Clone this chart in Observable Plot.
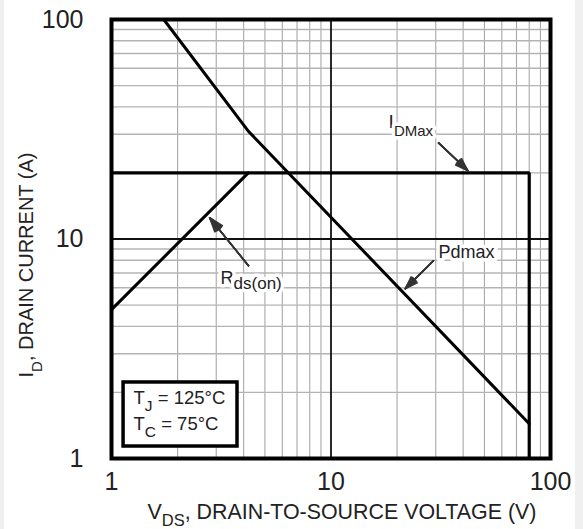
<!DOCTYPE html>
<html>
<head>
<meta charset="utf-8">
<script src="https://cdn.jsdelivr.net/npm/d3@7"></script>
<script src="https://cdn.jsdelivr.net/npm/@observablehq/plot@0.6"></script>
<style>
  html, body { margin: 0; padding: 0; }
  body { width: 583px; height: 529px; overflow: hidden;
    background: linear-gradient(to right, #f0f0f0 0 4px, #ffffff 4px 575px, #f0f0f0 575px); }
</style>
</head>
<body>
<div id="chart"></div>
<script>
// ---- data ----
const xTicks = [1, 10, 100];
const yTicks = [1, 10, 100];
const minorGrid = [2, 3, 4, 5, 6, 7, 8, 9, 20, 30, 40, 50, 60, 70, 80, 90];
const majorGrid = [10];

// I_DMax limit (V, A)
const idmaxV = [1, 80, 80];
const idmaxI = [20, 20, 1];
// Rds(on) limit
const rdsV = [1, 4.2];
const rdsI = [4.77, 20];
// Pdmax limit
const pdV = [1.73, 4.2, 80];
const pdI = [100, 31, 1.44];

// annotation arrows: [fromV, fromI, toV, toI]
const arrowIdmax = [30.9, 27.4, 42, 20.5];
const arrowPd = [29.3, 7.96, 21.8, 5.94];
const arrowRds = [4.21, 7.55, 2.8, 12.5];

// annotation label anchors (V, A)
const labelIdmax = [18.3, 32.1];
const labelPd = [30.9, 8.2];
const labelRds = [3.14, 6.26];

// conditions box
const boxV = [1.135, 3.75];
const boxI = [1.134, 2.22];
const condLine1 = [1.26, 1.78];
const condLine2 = [1.26, 1.355];

// ---- helpers ----
const FONT = "'Liberation Sans', Arial, Helvetica, sans-serif";
const INK = "#222";
const ctx = document.createElement("canvas").getContext("2d");
function tw(text, size) { ctx.font = `${size}px ${FONT}`; return ctx.measureText(text).width; }
function rich(parts, base) {
  let off = 0;
  const marks = [];
  for (const p of parts) {
    const o = {...base, text: d => d, fontSize: p.size, textAnchor: "start", lineAnchor: "bottom",
      fontFamily: FONT, fill: INK};
    if (base.rotate === -90) { o.dx = (base.dx || 0) + (p.shift || 0); o.dy = (base.dy || 0) - off; }
    else { o.dx = (base.dx || 0) + off; o.dy = (base.dy || 0) + (p.shift || 0); }
    marks.push(Plot.text([p.text], o));
    off += tw(p.text, p.size);
  }
  return marks;
}
const zipPts = (xs, ys) => xs.map((x, i) => ({x, y: ys[i]}));
function arrowMarks(a) {
  const d = [{x1: a[0], y1: a[1], x2: a[2], y2: a[3]}];
  return [6, 14, 22, 30, 38].map(ang => Plot.arrow(d, {x1: "x1", y1: "y1", x2: "x2", y2: "y2",
    stroke: "#333", strokeWidth: 1.5, headLength: 15, headAngle: ang}));
}
const halo = {stroke: "white", strokeWidth: 7, paintOrder: "stroke", strokeLinejoin: "round"};

const chart = Plot.plot({
  width: 583,
  height: 529,
  marginLeft: 111,
  marginRight: 33,
  marginTop: 19,
  marginBottom: 71,
  style: {fontFamily: FONT, background: "none", color: INK},
  x: {type: "log", domain: [1, 100]},
  y: {type: "log", domain: [1, 100]},
  marks: [
    Plot.ruleX(minorGrid, {stroke: "#a8a8a8", strokeWidth: 1.1}),
    Plot.ruleY(minorGrid, {stroke: "#b4b4b4", strokeWidth: 1.4}),
    Plot.ruleX(majorGrid, {stroke: "#111", strokeWidth: 1.8}),
    Plot.ruleY(majorGrid, {stroke: "#111", strokeWidth: 1.8}),
    Plot.axisX({ticks: xTicks, tickSize: 0, tickPadding: 14, fontSize: 25, tickFormat: d => String(d), label: null, fill: INK}),
    Plot.axisY({ticks: yTicks, tickSize: 0, tickPadding: 28, fontSize: 25, tickFormat: d => String(d), label: null, fill: INK}),
    // annotation labels (with white halo)
    ...rich([{text: "I", size: 19}, {text: "DMax", size: 15, shift: 8}],
      {x: () => labelIdmax[0], y: () => labelIdmax[1], ...halo}),
    ...rich([{text: "Pdmax", size: 18}],
      {x: () => labelPd[0], y: () => labelPd[1], ...halo}),
    ...rich([{text: "R", size: 18}, {text: "ds(on)", size: 17, shift: 5}],
      {x: () => labelRds[0], y: () => labelRds[1], ...halo}),
    // limit curves
    Plot.line(zipPts(idmaxV, idmaxI), {x: "x", y: "y", stroke: "black", strokeWidth: 3.2, strokeLinejoin: "miter"}),
    Plot.line(zipPts(rdsV, rdsI), {x: "x", y: "y", stroke: "black", strokeWidth: 3}),
    Plot.line(zipPts(pdV, pdI), {x: "x", y: "y", stroke: "black", strokeWidth: 3}),
    // arrows
    ...arrowMarks(arrowIdmax),
    ...arrowMarks(arrowPd),
    ...arrowMarks(arrowRds),
    // conditions box
    Plot.rect([{x1: boxV[0], x2: boxV[1], y1: boxI[0], y2: boxI[1]}],
      {x1: "x1", x2: "x2", y1: "y1", y2: "y2", fill: "white", stroke: "black", strokeWidth: 3.5}),
    ...rich([{text: "T", size: 18.5}, {text: "J", size: 15.5, shift: 7}, {text: " = 125°C", size: 18.5}],
      {x: () => condLine1[0], y: () => condLine1[1]}),
    ...rich([{text: "T", size: 18.5}, {text: "C", size: 15.5, shift: 7}, {text: " = 75°C", size: 18.5}],
      {x: () => condLine2[0], y: () => condLine2[1]}),
    // frame
    Plot.frame({stroke: "black", strokeWidth: 4}),
    // axis titles
    ...rich([{text: "V", size: 21.4}, {text: "DS", size: 16.5, shift: 7}, {text: ", DRAIN-TO-SOURCE VOLTAGE (V)", size: 21.4}],
      {frameAnchor: "bottom-left", dx: 36, dy: 60}),
    ...rich([{text: "I", size: 20}, {text: "D", size: 15, shift: 9}, {text: ", DRAIN CURRENT (A)", size: 20}],
      {frameAnchor: "bottom-left", rotate: -90, dx: -79, dy: -81})
  ]
});
document.getElementById("chart").appendChild(chart);
</script>
</body>
</html>
